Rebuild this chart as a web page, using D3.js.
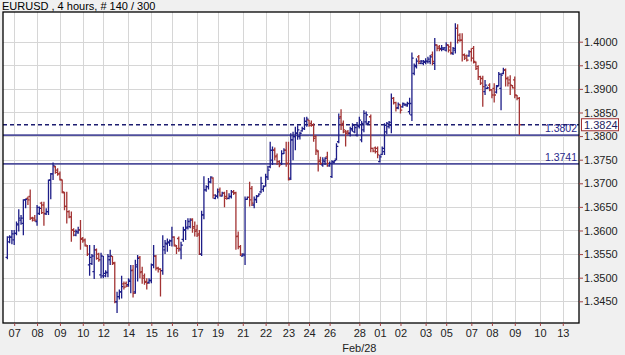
<!DOCTYPE html>
<html>
<head>
<meta charset="utf-8">
<script src="https://cdn.jsdelivr.net/npm/d3@7"></script>
<style>
  body { margin: 0; background: #f0f0f0; }
  svg { display: block; font-family: "Liberation Sans", Arial, sans-serif; }
</style>
</head>
<body>
<svg id="chart"></svg>
<script>
// EURUSD 4h bars
const open = [
  1.3543,1.3576,1.3586,1.3580,1.3594,1.3612,1.3622,1.3615,1.3665,1.3668,
  1.3672,1.3626,1.3626,1.3619,1.3636,1.3658,1.3654,1.3635,1.3640,1.3707,
  1.3720,1.3735,1.3728,1.3720,1.3707,1.3680,1.3651,1.3640,1.3629,1.3601,
  1.3590,1.3595,1.3601,1.3583,1.3580,1.3567,1.3527,1.3530,1.3513,1.3559,
  1.3550,1.3506,1.3504,1.3504,1.3511,1.3538,1.3545,1.3530,1.3449,1.3460,
  1.3470,1.3487,1.3488,1.3485,1.3492,1.3516,1.3470,1.3523,1.3543,1.3513,
  1.3504,1.3492,1.3490,1.3494,1.3527,1.3545,1.3520,1.3518,1.3515,1.3559,
  1.3571,1.3574,1.3578,1.3586,1.3567,1.3583,1.3559,1.3581,1.3601,1.3607,
  1.3608,1.3624,1.3608,1.3601,1.3593,1.3550,1.3633,1.3686,1.3693,1.3703,
  1.3711,1.3668,1.3673,1.3686,1.3673,1.3679,1.3672,1.3668,1.3672,1.3682,
  1.3680,1.3588,1.3566,1.3546,1.3548,1.3666,1.3670,1.3689,1.3654,1.3665,
  1.3673,1.3682,1.3687,1.3694,1.3713,1.3735,1.3749,1.3770,1.3758,1.3746,
  1.3742,1.3763,1.3770,1.3742,1.3711,1.3792,1.3799,1.3806,1.3799,1.3811,
  1.3816,1.3831,1.3834,1.3827,1.3823,1.3799,1.3767,1.3749,1.3739,1.3746,
  1.3756,1.3737,1.3714,1.3744,1.3751,1.3788,1.3841,1.3827,1.3809,1.3809,
  1.3806,1.3813,1.3809,1.3802,1.3820,1.3792,1.3813,1.3830,1.3827,1.3841,
  1.3774,1.3775,1.3774,1.3746,1.3761,1.3767,1.3809,1.3820,1.3823,1.3880,
  1.3871,1.3860,1.3866,1.3862,1.3866,1.3864,1.3852,1.3845,1.3933,1.3947,
  1.3968,1.3954,1.3954,1.3956,1.3958,1.3958,1.3972,1.3954,1.3993,1.3989,
  1.3986,1.3984,1.3982,1.3993,1.3989,1.3975,1.3982,1.4028,1.4014,1.4003,
  1.3972,1.3970,1.3970,1.3979,1.3986,1.3956,1.3947,1.3926,1.3922,1.3894,
  1.3901,1.3908,1.3898,1.3901,1.3893,1.3907,1.3901,1.3933,1.3940,1.3922,
  1.3919,1.3907,1.3919,1.3886,1.3880
];
const high = [
  1.3588,1.3590,1.3601,1.3601,1.3619,1.3645,1.3633,1.3666,1.3668,1.3672,
  1.3687,1.3629,1.3633,1.3654,1.3651,1.3661,1.3661,1.3647,1.3708,1.3722,
  1.3744,1.3737,1.3732,1.3725,1.3708,1.3682,1.3682,1.3643,1.3640,1.3605,
  1.3602,1.3608,1.3622,1.3586,1.3583,1.3569,1.3569,1.3550,1.3569,1.3562,
  1.3553,1.3553,1.3546,1.3516,1.3550,1.3559,1.3546,1.3534,1.3470,1.3475,
  1.3504,1.3492,1.3492,1.3499,1.3527,1.3527,1.3538,1.3548,1.3546,1.3523,
  1.3509,1.3499,1.3499,1.3530,1.3569,1.3548,1.3523,1.3520,1.3590,1.3580,
  1.3583,1.3581,1.3608,1.3588,1.3569,1.3587,1.3576,1.3608,1.3622,1.3626,
  1.3626,1.3626,1.3619,1.3612,1.3601,1.3642,1.3715,1.3696,1.3711,1.3715,
  1.3713,1.3677,1.3689,1.3691,1.3682,1.3682,1.3686,1.3679,1.3686,1.3686,
  1.3682,1.3598,1.3569,1.3552,1.3672,1.3672,1.3703,1.3694,1.3672,1.3675,
  1.3679,1.3714,1.3696,1.3720,1.3737,1.3788,1.3778,1.3776,1.3763,1.3749,
  1.3770,1.3774,1.3788,1.3788,1.3806,1.3809,1.3820,1.3823,1.3809,1.3820,
  1.3840,1.3841,1.3834,1.3833,1.3827,1.3802,1.3770,1.3756,1.3755,1.3755,
  1.3767,1.3746,1.3749,1.3749,1.3785,1.3848,1.3857,1.3833,1.3813,1.3813,
  1.3820,1.3827,1.3823,1.3830,1.3841,1.3832,1.3855,1.3852,1.3832,1.3846,
  1.3774,1.3778,1.3778,1.3760,1.3778,1.3827,1.3830,1.3832,1.3890,1.3883,
  1.3873,1.3871,1.3867,1.3871,1.3869,1.3873,1.3881,1.3977,1.3954,1.3965,
  1.3972,1.3961,1.3961,1.3965,1.3968,1.3972,1.3979,1.4008,1.3994,1.3993,
  1.3993,1.3989,1.3999,1.3994,1.4000,1.3989,1.4039,1.4037,1.4018,1.4018,
  1.3975,1.3973,1.3982,1.3986,1.3991,1.3958,1.3950,1.3928,1.3928,1.3919,
  1.3905,1.3912,1.3900,1.3912,1.3908,1.3936,1.3933,1.3945,1.3943,1.3926,
  1.3929,1.3908,1.3926,1.3887,1.3883
];
const low = [
  1.3539,1.3573,1.3571,1.3569,1.3590,1.3598,1.3612,1.3590,1.3647,1.3654,
  1.3622,1.3619,1.3619,1.3610,1.3633,1.3635,1.3610,1.3633,1.3633,1.3666,
  1.3707,1.3720,1.3716,1.3706,1.3679,1.3643,1.3615,1.3626,1.3576,1.3588,
  1.3588,1.3593,1.3559,1.3574,1.3566,1.3546,1.3504,1.3527,1.3497,1.3538,
  1.3534,1.3499,1.3499,1.3501,1.3501,1.3527,1.3527,1.3446,1.3425,1.3454,
  1.3456,1.3475,1.3480,1.3481,1.3467,1.3458,1.3466,1.3492,1.3499,1.3487,
  1.3485,1.3475,1.3487,1.3488,1.3520,1.3515,1.3511,1.3460,1.3506,1.3550,
  1.3555,1.3567,1.3566,1.3566,1.3550,1.3555,1.3539,1.3576,1.3580,1.3602,
  1.3605,1.3595,1.3587,1.3586,1.3548,1.3546,1.3624,1.3682,1.3687,1.3700,
  1.3668,1.3666,1.3668,1.3672,1.3672,1.3649,1.3665,1.3666,1.3668,1.3675,
  1.3559,1.3560,1.3546,1.3545,1.3527,1.3665,1.3651,1.3652,1.3647,1.3658,
  1.3672,1.3679,1.3682,1.3693,1.3707,1.3732,1.3739,1.3749,1.3739,1.3734,
  1.3739,1.3762,1.3735,1.3706,1.3707,1.3749,1.3770,1.3792,1.3793,1.3809,
  1.3813,1.3820,1.3820,1.3820,1.3788,1.3760,1.3725,1.3739,1.3735,1.3739,
  1.3735,1.3735,1.3711,1.3742,1.3749,1.3785,1.3813,1.3806,1.3778,1.3802,
  1.3799,1.3809,1.3806,1.3799,1.3816,1.3787,1.3808,1.3823,1.3825,1.3766,
  1.3766,1.3763,1.3753,1.3744,1.3760,1.3760,1.3804,1.3816,1.3806,1.3867,
  1.3852,1.3857,1.3848,1.3860,1.3864,1.3862,1.3846,1.3832,1.3929,1.3943,
  1.3952,1.3952,1.3950,1.3952,1.3954,1.3952,1.3950,1.3940,1.3980,1.3980,
  1.3980,1.3982,1.3979,1.3977,1.3973,1.3972,1.3975,1.3996,1.4000,1.3958,
  1.3961,1.3958,1.3968,1.3958,1.3954,1.3940,1.3919,1.3908,1.3862,1.3887,
  1.3900,1.3895,1.3880,1.3871,1.3890,1.3905,1.3855,1.3931,1.3905,1.3905,
  1.3887,1.3901,1.3880,1.3876,1.3803
];
const close = [
  1.3586,1.3586,1.3593,1.3594,1.3614,1.3626,1.3626,1.3665,1.3666,1.3665,
  1.3626,1.3622,1.3622,1.3649,1.3647,1.3638,1.3636,1.3640,1.3706,1.3720,
  1.3737,1.3723,1.3720,1.3708,1.3682,1.3651,1.3640,1.3629,1.3601,1.3598,
  1.3598,1.3601,1.3581,1.3578,1.3569,1.3550,1.3543,1.3546,1.3559,1.3541,
  1.3538,1.3546,1.3509,1.3511,1.3545,1.3546,1.3532,1.3449,1.3460,1.3470,
  1.3481,1.3480,1.3482,1.3495,1.3515,1.3467,1.3527,1.3541,1.3511,1.3499,
  1.3490,1.3488,1.3494,1.3527,1.3546,1.3520,1.3518,1.3515,1.3566,1.3573,
  1.3576,1.3578,1.3586,1.3569,1.3562,1.3562,1.3569,1.3601,1.3605,1.3619,
  1.3622,1.3605,1.3598,1.3590,1.3550,1.3633,1.3686,1.3693,1.3703,1.3713,
  1.3675,1.3673,1.3682,1.3675,1.3679,1.3668,1.3668,1.3672,1.3682,1.3679,
  1.3587,1.3566,1.3550,1.3550,1.3666,1.3670,1.3665,1.3658,1.3666,1.3672,
  1.3677,1.3700,1.3693,1.3714,1.3728,1.3770,1.3770,1.3756,1.3746,1.3739,
  1.3763,1.3770,1.3742,1.3708,1.3792,1.3799,1.3806,1.3813,1.3806,1.3816,
  1.3831,1.3836,1.3823,1.3823,1.3795,1.3770,1.3746,1.3742,1.3749,1.3753,
  1.3742,1.3742,1.3746,1.3748,1.3778,1.3838,1.3823,1.3813,1.3806,1.3806,
  1.3816,1.3823,1.3818,1.3823,1.3834,1.3827,1.3848,1.3845,1.3830,1.3774,
  1.3768,1.3767,1.3760,1.3756,1.3774,1.3823,1.3827,1.3829,1.3880,1.3871,
  1.3859,1.3867,1.3855,1.3869,1.3867,1.3869,1.3869,1.3965,1.3950,1.3959,
  1.3958,1.3959,1.3958,1.3959,1.3963,1.3968,1.3958,1.3993,1.3986,1.3984,
  1.3987,1.3987,1.3993,1.3982,1.3977,1.3986,1.4028,1.4003,1.4003,1.3972,
  1.3965,1.3961,1.3979,1.3965,1.3958,1.3943,1.3926,1.3912,1.3905,1.3908,
  1.3902,1.3898,1.3887,1.3887,1.3905,1.3931,1.3929,1.3940,1.3922,1.3912,
  1.3908,1.3902,1.3887,1.3880,1.3824
];

// bar index where each date label sits, and the label text
const dayTickBars = [3,13,23,33,42,53,63,72,83,92,103,113,123,132,141,154,163,172,183,192,203,212,222,233,243];
const dayLabels = ['07','08','09','10','12','14','15','16','17','19','21','22','23','24','26','28','01','02','03','05','07','08','09','10','13'];
const monthMark = {bar: 154, text: 'Feb/28'};

const priceTicks = [1.3450,1.3500,1.3550,1.3600,1.3650,1.3700,1.3750,1.3800,1.3850,1.3900,1.3950,1.4000];
const levelLines = [1.3802, 1.3741];
const bidPrice = 1.3824;
const title = 'EURUSD , 4 hours, # 140 / 300';

const width = 625, height = 355;
const plot = {left: 3, right: 579, top: 12, bottom: 323};

const bullColor = '#1e1e88';
const bearColor = '#a33434';

const svg = d3.select('#chart')
    .attr('width', width)
    .attr('height', height);

svg.append('rect')
    .attr('width', width).attr('height', height)
    .attr('fill', '#f0f0f0');

svg.append('rect')
    .attr('x', plot.left).attr('y', plot.top)
    .attr('width', plot.right - plot.left).attr('height', plot.bottom - plot.top)
    .attr('fill', '#ffffff');

// scales
let x = d3.scaleLinear()
    .domain([-1.9, 250.1])
    .range([plot.left, plot.right]);

let y = d3.scaleLinear()
    .domain([1.3404, 1.40629])
    .range([plot.bottom, plot.top]);

// grid
const grid = svg.append('g').attr('stroke', '#d6d6d6').attr('stroke-width', 1);
grid.selectAll('line.v')
    .data(dayTickBars)
    .enter().append('line')
    .attr('x1', d => Math.round(x(d)) + 0.5).attr('x2', d => Math.round(x(d)) + 0.5)
    .attr('y1', plot.top).attr('y2', plot.bottom);
grid.selectAll('line.h')
    .data(priceTicks)
    .enter().append('line')
    .attr('x1', plot.left).attr('x2', plot.right)
    .attr('y1', d => Math.round(y(d)) + 0.5).attr('y2', d => Math.round(y(d)) + 0.5);

// level lines
svg.append('g').selectAll('line')
    .data(levelLines)
    .enter().append('line')
    .attr('x1', plot.left).attr('x2', plot.right)
    .attr('y1', d => y(d)).attr('y2', d => y(d))
    .attr('stroke', '#4f4f9c')
    .attr('stroke-width', 1.8);

svg.append('g').selectAll('text')
    .data(levelLines)
    .enter().append('text')
    .attr('x', plot.right - 2)
    .attr('y', d => y(d) - 3)
    .attr('text-anchor', 'end')
    .attr('font-size', '10.5px')
    .attr('fill', '#2a2a8c')
    .text(d => d.toFixed(4));

// bid line (dashed)
svg.append('line')
    .attr('x1', plot.left).attr('x2', plot.right)
    .attr('y1', y(bidPrice)).attr('y2', y(bidPrice))
    .attr('stroke', '#1d1d70')
    .attr('stroke-width', 1.3)
    .attr('stroke-dasharray', '4,3');

// OHLC bars
const bars = open.map((o, i) => ({i: i, o: o, h: high[i], l: low[i], c: close[i]}));
svg.append('g')
    .attr('fill', 'none')
    .attr('stroke-width', 1.3)
    .selectAll('path')
    .data(bars)
    .enter()
    .append('path')
    .attr('stroke', d => d.c >= d.o ? bullColor : bearColor)
    .attr('d', d => {
        const cx = x(d.i);
        return 'M' + cx + ',' + y(d.h) + 'V' + y(d.l) +
               'M' + (cx - 1.8) + ',' + y(d.o) + 'H' + cx +
               'M' + cx + ',' + y(d.c) + 'H' + (cx + 1.8);
    });

// frame
svg.append('rect')
    .attr('x', plot.left).attr('y', plot.top)
    .attr('width', plot.right - plot.left).attr('height', plot.bottom - plot.top)
    .attr('fill', 'none')
    .attr('stroke', '#000')
    .attr('stroke-width', 1.3);

// y axis on the right
let yAxis = svg.append('g')
    .attr('transform', 'translate(' + plot.right + ',0)')
    .call(d3.axisRight(y).tickValues(priceTicks).tickFormat(d3.format('.4f')).tickSize(4).tickPadding(1));
yAxis.select('.domain').remove();
yAxis.selectAll('line').attr('stroke', '#a04040');
yAxis.selectAll('text').attr('fill', '#222').attr('font-size', '11px')
    .attr('font-family', '"Liberation Sans", Arial, sans-serif');

// x axis
let xAxis = svg.append('g')
    .attr('transform', 'translate(0,' + plot.bottom + ')')
    .call(d3.axisBottom(x).tickValues(dayTickBars)
        .tickFormat(d => dayLabels[dayTickBars.indexOf(d)])
        .tickSize(3).tickPadding(3));
xAxis.select('.domain').remove();
xAxis.selectAll('line').attr('stroke', '#a04040');
xAxis.selectAll('text').attr('fill', '#222').attr('font-size', '11px')
    .attr('font-family', '"Liberation Sans", Arial, sans-serif');

svg.append('text')
    .attr('x', x(monthMark.bar))
    .attr('y', 352)
    .attr('text-anchor', 'middle')
    .attr('font-size', '11px')
    .attr('fill', '#222')
    .text(monthMark.text);

// current price box
const bidY = y(bidPrice);
svg.append('rect')
    .attr('x', plot.right + 2.5).attr('y', bidY - 6)
    .attr('width', 37).attr('height', 12)
    .attr('fill', '#ffffff')
    .attr('stroke', '#a03030')
    .attr('stroke-width', 1);
svg.append('text')
    .attr('x', plot.right + 5)
    .attr('y', bidY + 4)
    .attr('font-size', '11px')
    .attr('fill', '#1d1d60')
    .text(bidPrice.toFixed(4));

// title
svg.append('text')
    .attr('x', 2)
    .attr('y', 10)
    .attr('font-size', '11px')
    .attr('fill', '#000')
    .text(title);
</script>
</body>
</html>
